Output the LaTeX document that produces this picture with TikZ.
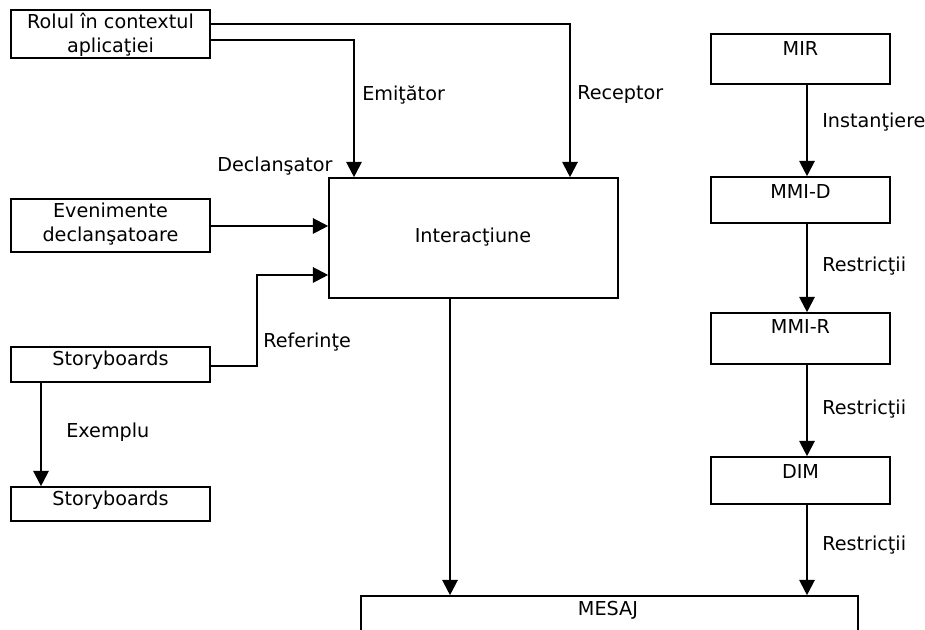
\documentclass[tikz,border=0pt]{standalone}
\usepackage{fontspec}
\setmainfont{DejaVu Sans}
\usetikzlibrary{arrows.meta,fit}

\tikzset{
  box/.style={draw, line width=1.2pt, inner sep=0pt, rectangle},
  lbl/.style={anchor=west, inner sep=0pt},
  txt/.style={inner sep=0pt, align=center},
  conn/.style={line width=1.6pt, line join=miter},
  arr/.style={conn, -{Triangle[length=11.5pt,width=11.5pt]}},
}

\begin{document}
\begin{tikzpicture}[x=0.75pt, y=-0.75pt, font=\fontsize{14.4}{18}\selectfont]
  \useasboundingbox (0,0) rectangle (925,630);
  \clip (0,0) rectangle (925,630);
  \fill[white] (0,0) rectangle (925,630);

  % left column
  \node[box, fit={(11,10) (210,58)}] (rolul) {};
  \node[txt] (rolulT) at (110.5,35) {Rolul în contextul\\aplicaţiei};
  \node[box, fit={(11,199) (210,252)}] (even) {};
  \node[txt] (evenT) at (110.5,224) {Evenimente\\declanşatoare};
  \node[box, fit={(11,347) (210,382)}] (story1) {};
  \node[txt] (story1T) at (110.5,360) {Storyboards};
  \node[box, fit={(11,487) (210,521)}] (story2) {};
  \node[txt] (story2T) at (110.5,500) {Storyboards};

  % centre
  \node[box, fit={(329,178) (618,298)}] (inter) {};
  \node[txt] (interT) at (473,237) {Interacţiune};
  \node[box, fit={(361,596) (858,660)}] (mesaj) {};
  \node[txt] (mesajT) at (608,610) {MESAJ};

  % right column
  \node[box, fit={(711,34) (890,84)}] (mir) {};
  \node[txt] (mirT) at (800.5,49) {MIR};
  \node[box, fit={(711,177) (890,223)}] (mmid) {};
  \node[txt] (mmidT) at (800.5,192) {MMI-D};
  \node[box, fit={(711,313) (890,364)}] (mmir) {};
  \node[txt] (mmirT) at (800.5,327) {MMI-R};
  \node[box, fit={(711,457) (890,504)}] (dim) {};
  \node[txt] (dimT) at (800.5,472) {DIM};

  % connectors
  \draw[arr] (rolul.east |- 0,24) -| (570,0 |- inter.north);
  \draw[arr] (rolul.east |- 0,40) -| (354,0 |- inter.north);
  \draw[arr] (even.east |- 0,226) -- (inter.west |- 0,226);
  \draw[arr] (story1.east |- 0,366) -| (257,275) -- (inter.west |- 0,275);
  \draw[arr] (41,0 |- story1.south) -- (41,0 |- story2.north);
  \draw[arr] (450,0 |- inter.south) -- (450,0 |- mesaj.north);
  \draw[arr] (807,0 |- mir.south) -- (807,0 |- mmid.north);
  \draw[arr] (807,0 |- mmid.south) -- (807,0 |- mmir.north);
  \draw[arr] (807,0 |- mmir.south) -- (807,0 |- dim.north);
  \draw[arr] (807,0 |- dim.south) -- (807,0 |- mesaj.north);

  % connector labels
  \node[lbl] (lEmit) at (362,95) {Emiţător};
  \node[lbl] (lRec) at (577,95) {Receptor};
  \node[lbl] (lDecl) at (217,166) {Declanşator};
  \node[lbl] (lRef) at (263,342) {Referinţe};
  \node[lbl] (lEx) at (66,432) {Exemplu};
  \node[lbl] (lInst) at (822,122) {Instanţiere};
  \node[lbl] (lR1) at (822,266) {Restricţii};
  \node[lbl] (lR2) at (822,409) {Restricţii};
  \node[lbl] (lR3) at (822,545) {Restricţii};
\end{tikzpicture}
\end{document}
